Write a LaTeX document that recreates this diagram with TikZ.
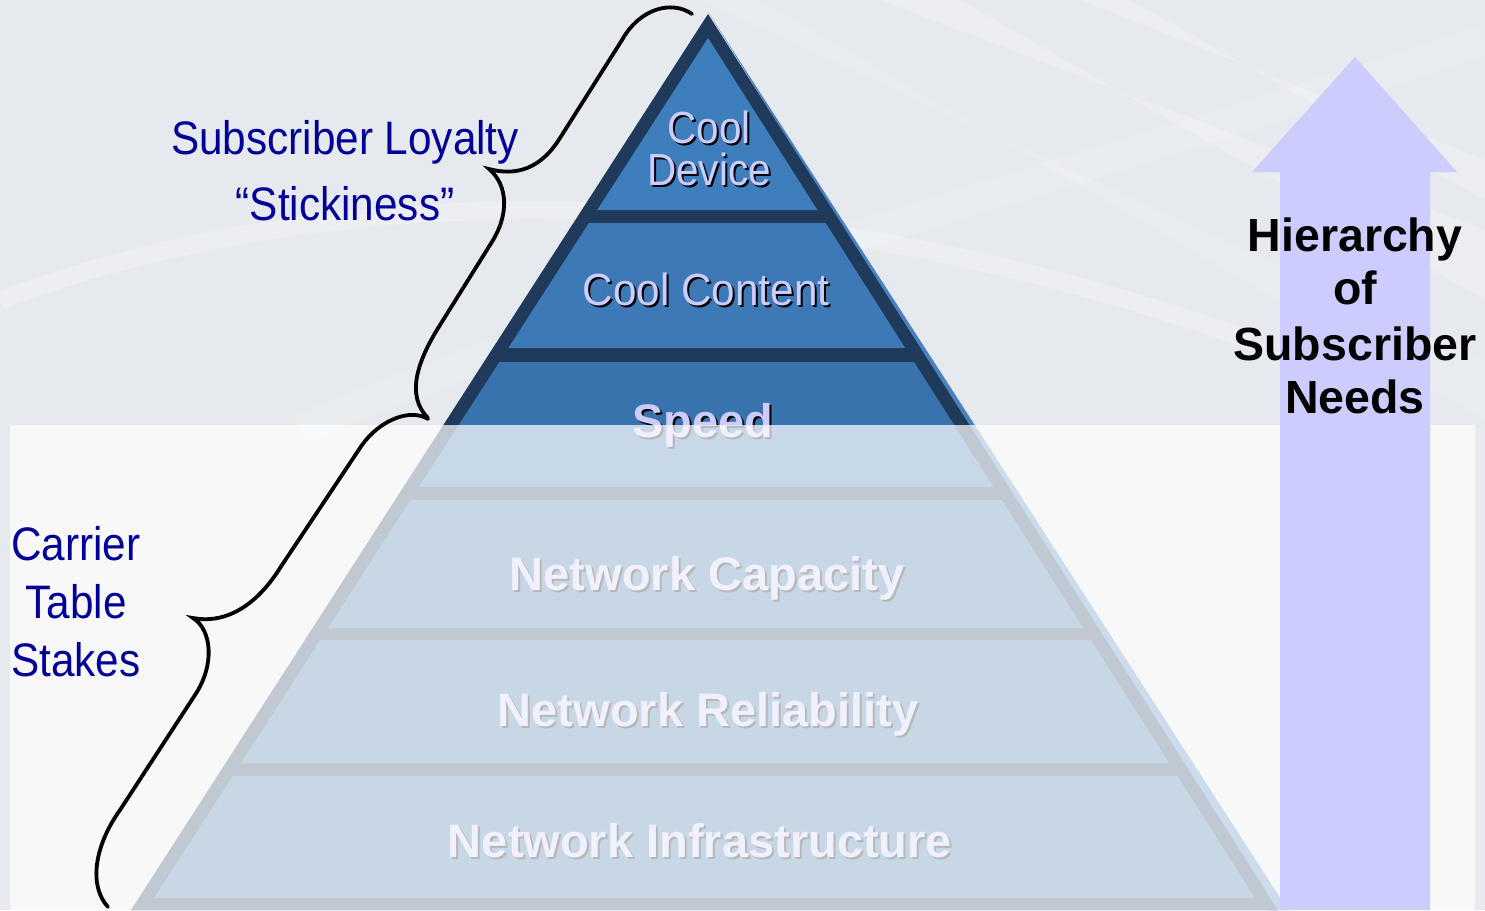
\documentclass[tikz,border=0pt]{standalone}
\usepackage{fontspec}
\setmainfont{Liberation Sans}
\newfontfamily\narrowfont[FakeStretch=0.9]{Liberation Sans}
\newfontfamily\narrowfontb[FakeStretch=0.94]{Liberation Sans}
\usetikzlibrary{calc}
\definecolor{bgc}{HTML}{E6E9ED}
\definecolor{navy}{HTML}{1F3A5A}
\definecolor{edgeblue}{HTML}{4A82C0}
\definecolor{fillA}{HTML}{3F7EBC}
\definecolor{fillB}{HTML}{3C79B6}
\definecolor{fillC}{HTML}{3873AD}
\definecolor{fillD}{HTML}{3670A8}
\definecolor{lav}{HTML}{CCCCFF}
\definecolor{lblue}{HTML}{000099}
\newcommand\shadowed[4]{%
  \node[#1, text=black] (#2s) at ($(#3)+(2,2)$) {#4};
  \node[#1, text=lav] (#2) at (#3) {#4};}
\newcommand\xl[1]{{708-0.644*(#1-38)}}
\newcommand\xr[1]{{708+0.636*(#1-38)}}
\begin{document}
\begin{tikzpicture}[x=1pt,y=-1pt,
  plab/.style={anchor=base, inner sep=0pt, font=\fontsize{47}{50}\selectfont\bfseries},
  nlab/.style={anchor=base, inner sep=0pt, font=\narrowfont\fontsize{45}{50}\selectfont},
  sidelab/.style={anchor=base, inner sep=0pt, text=lblue, font=\narrowfont\fontsize{47}{50}\selectfont},
  hlab/.style={anchor=base, inner sep=0pt, text=black, font=\fontsize{46.5}{50}\selectfont\bfseries},
  brace/.style={draw=black, line width=3.8pt, line cap=round},
  streak/.style={white, opacity=0.22}]
\useasboundingbox (0,0) rectangle (1485,910);
% background
\fill[bgc] (0,0) rectangle (1485,910);
\begin{scope}
  \clip (0,0) rectangle (1485,910);
  \fill[streak] (880,0) -- (960,0) -- (1485,300) -- (1485,230) -- cycle;
  \fill[streak] (1080,0) -- (1130,0) -- (1485,200) -- (1485,160) -- cycle;
  \fill[streak, opacity=0.15] (700,0) -- (760,0) -- (1485,420) -- (1485,360) -- cycle;
  \draw[white, opacity=0.25, line width=18pt] (0,300) .. controls (350,170) and (800,180) .. (1250,340);
  \draw[white, opacity=0.15, line width=30pt] (300,430) .. controls (600,300) and (1000,200) .. (1485,40);
\end{scope}
% pyramid
\fill[edgeblue] (708,12) -- (1288,910) -- (1270,910) -- cycle;
\fill[navy] (708,14) -- ({708+0.636*896},910) -- ({708-0.644*896},910) -- cycle;
\fill[fillA] (708,38) -- (\xr{210},210) -- (\xl{210},210) -- cycle;
\fill[fillB] (\xl{223},223) -- (\xr{223},223) -- (\xr{348},348) -- (\xl{348},348) -- cycle;
\fill[fillC] (\xl{362},362) -- (\xr{362},362) -- (\xr{487},487) -- (\xl{487},487) -- cycle;
\fill[fillD] (\xl{500},500) -- (\xr{500},500) -- (\xr{628},628) -- (\xl{628},628) -- cycle;
\fill[fillD] (\xl{640},640) -- (\xr{640},640) -- (\xr{763},763) -- (\xl{763},763) -- cycle;
\fill[fillD] (\xl{776},776) -- (\xr{776},776) -- (\xr{898},898) -- (\xl{898},898) -- cycle;
% pyramid labels
\shadowed{nlab, align=center, font=\narrowfont\fontsize{45}{42}\selectfont}{cooldev}{709,185}{Cool\\Device}
\shadowed{nlab, font=\narrowfontb\fontsize{45}{50}\selectfont}{content}{706,305}{Cool Content}
\shadowed{plab}{speed}{703,437}{Speed}
\shadowed{plab}{capacity}{707,590}{Network Capacity}
\shadowed{plab}{reliab}{708,726}{Network Reliability}
\shadowed{plab}{infra}{700,857}{Network Infrastructure}
% translucent overlay
\fill[white, opacity=0.72] (10,425) rectangle (1475,910);
% braces
\draw[brace] (692,14) .. controls (672,0) and (640,8) .. (622,40) -- (560,138)
  .. controls (540,170) and (515,176) .. (489,169)
  .. controls (508,185) and (510,215) .. (490,245) -- (440,325)
  .. controls (418,360) and (405,395) .. (428,418);
\draw[brace] (428,419) .. controls (410,408) and (380,420) .. (362,445) -- (280,568)
  .. controls (260,600) and (230,625) .. (193,618)
  .. controls (212,630) and (215,665) .. (195,695) -- (120,810)
  .. controls (95,845) and (88,885) .. (108,907);
% side labels
\node[sidelab] (loyal) at (345,154) {Subscriber Loyalty};
\node[sidelab] (sticky) at (345,220) {“Stickiness”};
\node[sidelab] (carrier) at (76,560) {Carrier};
\node[sidelab] (table) at (76,618) {Table};
\node[sidelab] (stakes) at (76,676) {Stakes};
% arrow
\fill[lav] (1355,57) -- (1457,172) -- (1430,172) -- (1430,910) -- (1280,910) -- (1280,172) -- (1252,172) -- cycle;
\node[hlab] (hier) at (1355,251) {Hierarchy};
\node[hlab] (of) at (1355,304) {of};
\node[hlab] (subs) at (1355,360) {Subscriber};
\node[hlab] (needs) at (1355,413) {Needs};
\end{tikzpicture}
\end{document}
